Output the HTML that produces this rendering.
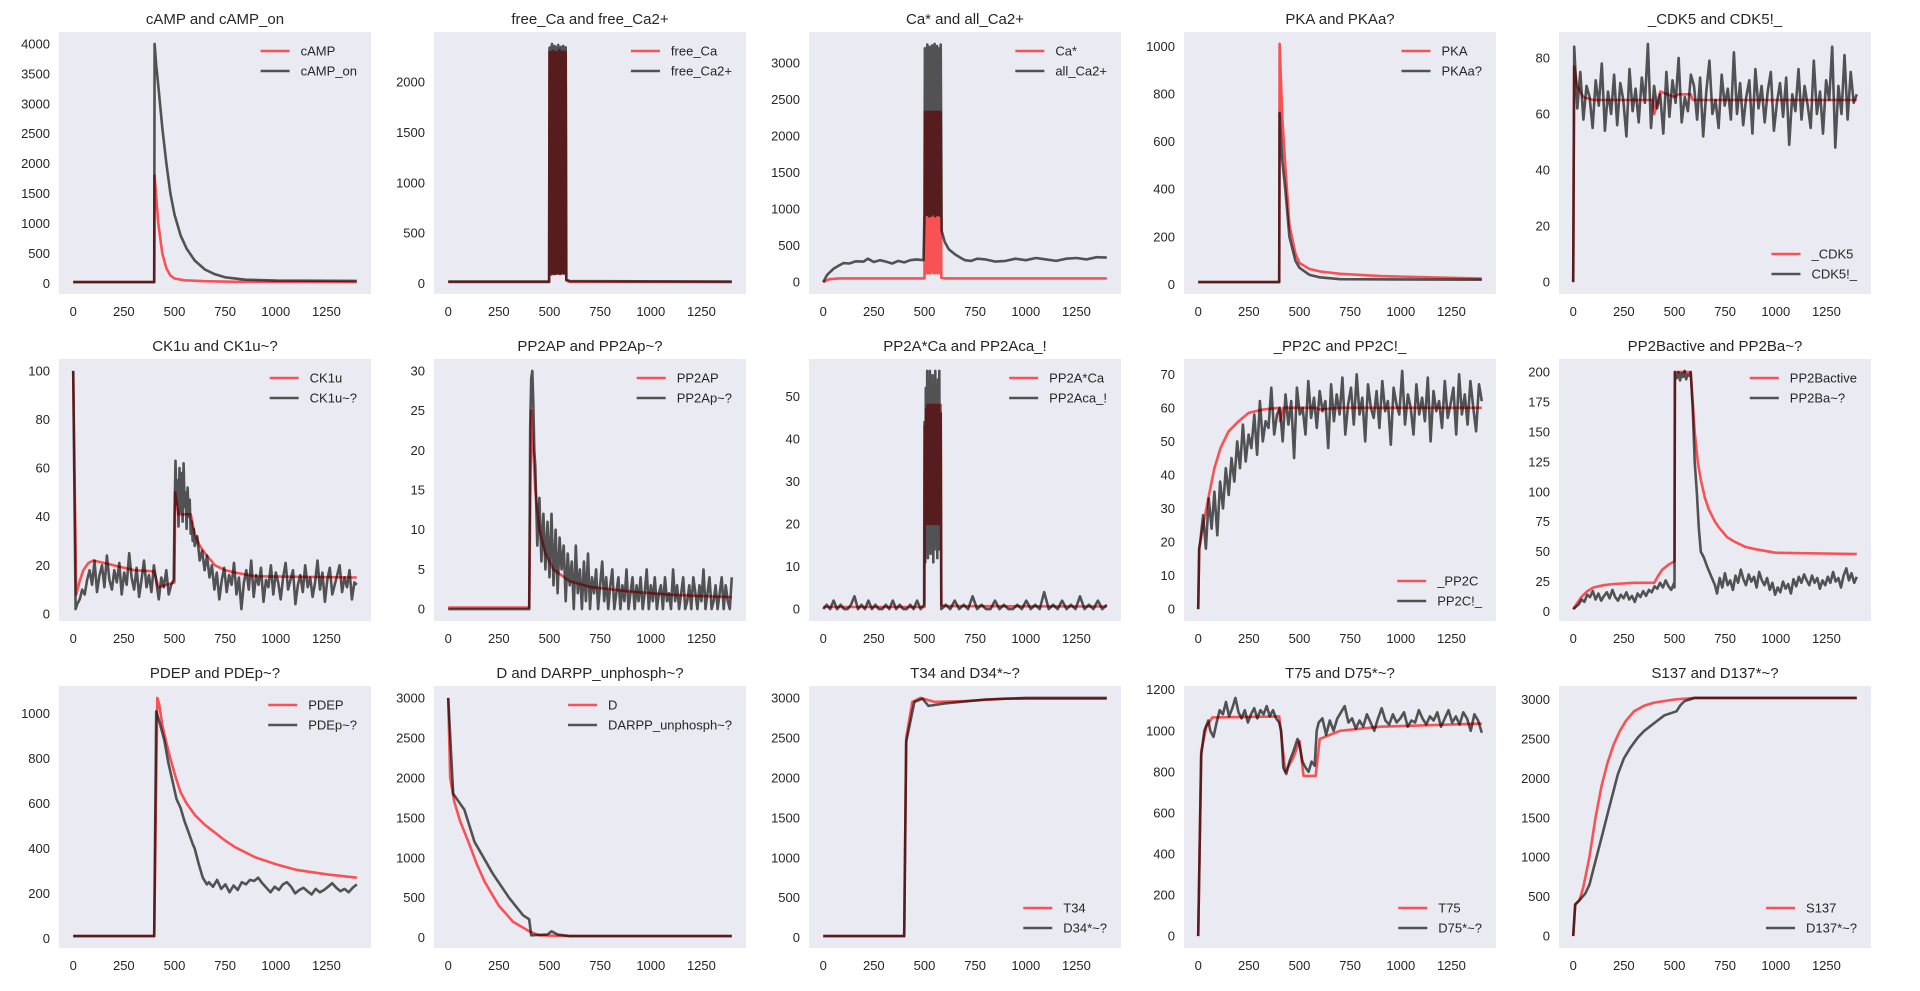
<!DOCTYPE html>
<html><head><meta charset="utf-8"><style>
html,body{margin:0;padding:0;background:#fff;}
svg text{font-family:"Liberation Sans",Arial,sans-serif;fill:#262626;}
</style></head><body>
<svg id="fig" xmlns="http://www.w3.org/2000/svg" width="1920" height="986" viewBox="0 0 1920 986"></svg>
<script>
// ---------- data ----------
const xTicks = [0,250,500,750,1000,1250];
const xDomain = [0,1400];

const camp = [[0,20],[400,20],[402,1800],[420,1000],[440,500],[460,250],[480,130],[500,80],[550,50],[650,35],[800,25],[1400,20]];
const campOn = [[0,20],[400,20],[402,4000],[410,3650],[420,3300],[440,2600],[460,2000],[480,1500],[500,1150],[530,800],[560,580],[600,380],[650,230],[700,150],[750,100],[850,60],[1000,45],[1400,40]];

const freeCaOsc = [2300,100,2300,110,2300,100,2310,95,2300,105,2300,100,2300,110,2300,100,2320,105,2300,100,2300,110,2300,100,2300,105,2300];
const freeCa2Osc = [2340,110,2350,90,2380,100,2330,120,2360,95,2340,105,2350,100,2370,110,2330,95,2350,100,2340,115,2360,100,2335,105,2345];
const caStarOsc = [2330,120,2330,130,2330,120,2330,900,2330,120,2330,130,2330,900,2330,120,2330,125,2330,900,2330,120,2330,130,2330,120,2330];
const allCaOsc = [3200,950,3100,920,3250,960,3180,900,3220,940,3150,910,3240,950,3190,930,3260,900,3170,960,3230,920,3200,940,3150,910,3250];
const allCaPre = [[0,0],[20,100],[50,180],[80,230],[100,260],[130,255],[160,285],[200,280],[220,320],[250,275],[280,300],[310,280],[340,255],[370,290],[400,270],[430,300],[460,310],[495,300],[500,950]];
const allCaPost = [[585,700],[600,550],[620,450],[650,380],[680,330],[700,300],[730,290],[760,320],[800,310],[850,280],[900,290],[950,320],[1000,300],[1050,330],[1100,310],[1150,290],[1200,320],[1250,330],[1300,310],[1350,340],[1400,335]];

const pka = [[0,10],[400,10],[402,1010],[415,700],[430,500],[450,250],[480,130],[500,90],[550,65],[600,55],[700,45],[900,35],[1400,25]];
const pkaa = [[0,10],[400,10],[402,720],[415,520],[430,400],[450,200],[480,100],[500,70],[550,40],[600,30],[700,22],[1400,20]];

const cdk5 = [[0,0],[5,77],[20,70],[50,66],[100,65],[395,65],[400,60],[430,68],[500,66],[520,67],[580,67],[590,65],[1400,65]];
const cdk5Noise = [84,62,75,58,70,66,55,72,63,78,54,68,60,74,56,71,65,52,76,61,69,57,73,64,85,55,70,62,67,53,75,59,72,64,80,57,66,61,74,70,58,73,52,68,79,60,65,55,74,63,69,58,82,60,71,56,66,72,53,76,62,70,57,68,75,54,64,71,59,73,49,67,61,76,58,70,63,55,79,60,68,53,72,65,84,48,70,60,81,58,75,64,67];

const ck1u = [[0,100],[15,8],[30,13],[50,18],[75,21],[100,22],[150,21],[200,20],[300,18],[400,17.5],[420,11],[500,13],[503,50],[520,41],[580,41],[600,33],[625,28],[650,25],[700,20],[750,18],[800,17],[900,15.5],[1400,15]];
const ck1nA = [4,6,10,8,14,18,12,22,9,16,20,11,24,14,10,18,13,21,8,17,12,25,15,10,19,7,14,22,11,16,9,20,13,6,15,11,18,8,12,14];
const ck1nB = [40,63,45,55,36,60,42,58,38,62,44,50,35,52,40,47,33,38,30,35];
const ck1nC = [28,32,22,26,18,24,15,20,10,17,6,14,19,9,16,12,21,8,15,2,13,18,10,22,7,16,12,19,5,14,11,20,8,17,13,6,15,21,10,14,18,4,12,16,9,20,11,15,7,13,22,10,17,5,14,19,8,12,16,20,9,15,11,18,6,13,12];

const pp2ap = [[0,0.2],[400,0.2],[410,25],[430,15],[450,10],[480,7],[520,5],[600,3.5],[700,2.8],[900,2.2],[1100,1.8],[1400,1.5]];
const pp2apPre = [[0,0],[400,0],[405,23],[410,29],[415,30],[420,26],[425,20]];
const pp2apNoise = [18,8,14,6,12,5,11,4,12,3,10,2,9,5,8,1,7,3,6,0,8,2,5,0,6,1,7,0,4,2,5,0,3,6,1,4,0,3,5,0,2,4,0,3,1,5,0,2,4,0,3,1,4,0,2,5,0,3,1,4,0,2,3,0,4,1,2,0,5,1,3,0,2,4,0,1,3,0,4,2,0,3,1,5,0,2,4,0,1,3,0,2,4,0,3,1,0,4];

const pp2aRedOsc = [43,20,47,21,48,20,48,21,48,20,48,21,48,20,48,21,48,20,48,21,48,20,48,21,48];
const pp2aPre = [0,1,0,2,0,1,0,0,1,3,0,1,0,2,0,1,0,0,1,0,2,0,1,0,0,1,0,2,0,1];
const pp2aOsc = [44,11,52,15,56,12,50,18,56,13,48,20,55,11,52,14,56,16,50,12,54,14,56,15,46];
const pp2aPost = [0,1,0,2,0,1,0,3,0,1,0,0,2,0,1,0,0,1,0,2,0,1,0,4,0,1,0,2,0,1,0,3,0,1,0,2,0,1];

const pp2c = [[0,0],[5,18],[25,25],[50,33],[80,42],[110,48],[150,53],[200,56],[250,58.5],[320,59.5],[400,60],[405,56],[420,60],[580,60],[600,59.5],[700,60],[1400,60]];
const pp2cNoise = [20,28,18,33,24,35,22,38,30,42,34,45,38,50,42,55,44,52,48,58,46,62,50,56,54,66,52,58,60,50,64,55,62,45,66,58,60,52,68,57,63,54,65,59,62,48,67,56,64,58,69,52,61,66,55,70,58,63,50,67,60,57,65,54,68,59,62,49,66,61,58,71,55,64,60,52,67,58,63,56,69,50,65,59,62,54,68,57,61,66,52,70,58,64,55,68,60,53,67,62];

const pp2b = [[0,2],[20,7],[40,12],[70,17],[100,20],[150,22],[200,23],[300,24],[400,24],[420,30],[440,35],[470,39],[500,42],[502,200],[580,200],[590,175],[600,150],[615,125],[630,110],[650,95],[670,85],[700,75],[720,70],[760,62],[800,58],[850,54],[900,52],[1000,49],[1400,48]];
const pp2bPre = [2,4,6,10,8,14,12,17,10,15,9,13,16,11,18,12,9,14,11,16,10,13,8,15,12,17,13,18,16,21,19,24,20,26,21,18,24];
const pp2bTop = [198,195,200,193,199,196,201,194,198,197,200];
const pp2bDrop = [[590,170],[600,125],[610,100],[620,70],[630,50],[645,45],[660,38],[680,30],[700,22]];
const pp2bPost = [15,28,20,32,22,26,18,30,24,35,27,22,31,25,29,20,33,26,22,28,18,24,14,20,16,25,19,23,15,27,21,29,24,31,26,22,30,24,28,19,26,22,29,24,33,25,28,20,30,36,26,32,24,29];

const pdep = [[0,10],[400,10],[415,1070],[425,1040],[440,950],[460,870],[480,800],[505,720],[530,650],[560,600],[600,550],[650,505],[700,470],[750,435],[800,405],[900,360],[1000,330],[1100,305],[1250,285],[1400,270]];
const pdepPre = [[0,10],[400,10],[410,1010],[430,950],[450,880],[470,780],[490,700],[510,620],[530,580],[550,520],[570,470],[590,420],[600,400],[620,330],[640,270],[660,240]];
const pdepPost = [250,230,260,220,240,205,235,215,250,240,260,255,270,245,225,205,230,215,240,250,230,200,215,225,210,195,220,205,215,230,245,225,210,220,205,225,240];

const dD = [[0,3000],[10,2000],[30,1700],[60,1450],[100,1200],[140,930],[180,700],[250,400],[320,200],[400,80],[450,30],[600,20],[1400,20]];
const darpp = [[0,3000],[25,1800],[80,1600],[130,1200],[220,800],[300,500],[370,280],[400,230],[410,30],[490,40],[510,80],[540,40],[600,20],[1400,20]];

const t34 = [[0,20],[400,20],[410,2500],[440,2950],[480,3000],[550,2950],[700,2960],[900,2990],[1400,2990]];
const d34 = [[0,20],[400,20],[410,2450],[450,2950],[490,2990],[520,2900],[600,2930],[800,2980],[1000,3000],[1400,3000]];

const t75 = [[0,0],[15,900],[40,1020],[70,1065],[400,1070],[430,800],[470,870],[500,950],[520,780],[580,780],[600,960],[700,1000],[900,1020],[1400,1035]];
const d75Pre = [[0,0],[15,880],[30,1000],[50,1050]];
const d75A = [1000,970,1040,1100,1080,1140,1070,1110,1160,1090,1060,1100,1040,1080,1110,1060,1100,1080,1120,1070,1100,1060,1040];
const d75Mid = [[410,1000],[420,820],[435,790],[450,850],[470,900],[490,960],[500,930],[515,850],[530,820],[545,800],[560,850],[575,830],[585,1000]];
const d75B = [1040,1060,980,1050,1000,1060,1090,1120,1040,1060,1010,1050,1020,1080,1040,1000,1060,1110,1050,1030,1080,1040,1060,1090,1020,1050,1040,1100,1060,1030,1070,1050,1090,1020,1060,1100,1040,1070,1030,1090,1060,1000,1080,1050,990];

const s137 = [[0,0],[10,400],[30,450],[50,620],[80,1000],[110,1500],[140,1900],[170,2200],[200,2430],[230,2600],[260,2730],[300,2850],[350,2920],[400,2960],[500,3000],[600,3020],[1400,3020]];
const d137 = [[0,0],[10,400],[40,480],[60,540],[80,650],[100,850],[120,1050],[145,1300],[170,1550],[195,1800],[220,2050],[250,2250],[280,2380],[320,2520],[350,2600],[400,2700],[450,2800],[510,2850],[530,2930],[550,2980],[600,3020],[1400,3020]];

// ---------- helpers (mapping only) ----------
function stepSeries(t0,t1,vals){const n=vals.length;return vals.map((v,i)=>[t0+(n>1?(t1-t0)*i/(n-1):0),v]);}
function cat(...parts){return [].concat(...parts);}

const plots = [
 {title:"cAMP and cAMP_on",names:["cAMP","cAMP_on"],a:camp,b:campOn,yt:[0,500,1000,1500,2000,2500,3000,3500,4000],leg:"ur"},
 {title:"free_Ca and free_Ca2+",names:["free_Ca","free_Ca2+"],a:cat([[0,15],[498,15]],stepSeries(500,580,freeCaOsc),[[583,30],[600,18],[1400,15]]),b:cat([[0,20],[498,20]],stepSeries(500,580,freeCa2Osc),[[583,40],[600,25],[1400,20]]),yt:[0,500,1000,1500,2000],leg:"ur"},
 {title:"Ca* and all_Ca2+",names:["Ca*","all_Ca2+"],a:cat([[0,0],[30,40],[80,50],[500,50]],stepSeries(502,580,caStarOsc),[[583,60],[600,50],[1400,50]]),b:cat(allCaPre,stepSeries(502,580,allCaOsc),allCaPost),yt:[0,500,1000,1500,2000,2500,3000],leg:"ur"},
 {title:"PKA and PKAa?",names:["PKA","PKAa?"],a:pka,b:pkaa,yt:[0,200,400,600,800,1000],leg:"ur"},
 {title:"_CDK5 and CDK5!_",names:["_CDK5","CDK5!_"],a:cdk5,b:cat([[0,0]],stepSeries(5,1400,cdk5Noise)),yt:[0,20,40,60,80],leg:"lr"},
 {title:"CK1u and CK1u~?",names:["CK1u","CK1u~?"],a:ck1u,b:cat([[0,100],[12,2]],stepSeries(20,496,ck1nA),stepSeries(500,595,ck1nB),stepSeries(600,1400,ck1nC)),yt:[0,20,40,60,80,100],leg:"ur"},
 {title:"PP2AP and PP2Ap~?",names:["PP2AP","PP2Ap~?"],a:pp2ap,b:cat(pp2apPre,stepSeries(430,1400,pp2apNoise)),yt:[0,5,10,15,20,25,30],leg:"ur"},
 {title:"PP2A*Ca and PP2Aca_!",names:["PP2A*Ca","PP2Aca_!"],a:cat([[0,0.5],[500,0.5]],stepSeries(502,580,pp2aRedOsc),[[583,1],[600,0.7],[1400,0.6]]),b:cat(stepSeries(0,498,pp2aPre),stepSeries(500,580,pp2aOsc),stepSeries(583,1400,pp2aPost)),yt:[0,10,20,30,40,50],leg:"ur"},
 {title:"_PP2C and PP2C!_",names:["_PP2C","PP2C!_"],a:pp2c,b:cat([[0,0],[5,18]],stepSeries(10,1400,pp2cNoise)),yt:[0,10,20,30,40,50,60,70],leg:"lr"},
 {title:"PP2Bactive and PP2Ba~?",names:["PP2Bactive","PP2Ba~?"],a:pp2b,b:cat(stepSeries(0,498,pp2bPre),[[500,20],[502,200]],stepSeries(505,580,pp2bTop),pp2bDrop,stepSeries(710,1400,pp2bPost)),yt:[0,25,50,75,100,125,150,175,200],leg:"ur"},
 {title:"PDEP and PDEp~?",names:["PDEP","PDEp~?"],a:pdep,b:cat(pdepPre,stepSeries(670,1400,pdepPost)),yt:[0,200,400,600,800,1000],leg:"ur"},
 {title:"D and DARPP_unphosph~?",names:["D","DARPP_unphosph~?"],a:dD,b:darpp,yt:[0,500,1000,1500,2000,2500,3000],leg:"ur"},
 {title:"T34 and D34*~?",names:["T34","D34*~?"],a:t34,b:d34,yt:[0,500,1000,1500,2000,2500,3000],leg:"lr"},
 {title:"T75 and D75*~?",names:["T75","D75*~?"],a:t75,b:cat(d75Pre,stepSeries(60,400,d75A),d75Mid,stepSeries(595,1400,d75B)),yt:[0,200,400,600,800,1000,1200],leg:"lr"},
 {title:"S137 and D137*~?",names:["S137","D137*~?"],a:s137,b:d137,yt:[0,500,1000,1500,2000,2500,3000],leg:"lr"}
];

// ---------- drawing ----------
const NS="http://www.w3.org/2000/svg";
const svg=document.getElementById('fig');
function el(tag,attrs,parent){const e=document.createElementNS(NS,tag);for(const k in attrs)e.setAttribute(k,attrs[k]);(parent||svg).appendChild(e);return e;}
const RED="rgba(255,0,0,0.65)", BLK="rgba(0,0,0,0.65)";

plots.forEach((p,i)=>{
  const c=i%5, r=Math.floor(i/5);
  const L=59+375*c, T=32+327*r, W=312, H=262;
  const g=el('g',{});
  
  
  const xspan=xDomain[1]-xDomain[0];
  const x0=xDomain[0]-0.05*xspan, x1=xDomain[1]+0.05*xspan;
  let mn=Infinity,mx=-Infinity;
  p.a.concat(p.b).forEach(q=>{if(q[1]<mn)mn=q[1];if(q[1]>mx)mx=q[1];});
  const ys=mx-mn, y0=mn-0.05*ys, y1=mx+0.05*ys;
  const X=v=>L+(v-x0)/(x1-x0)*W, Y=v=>T+H-(v-y0)/(y1-y0)*H;
  const bg=el('rect',{x:L,y:T,width:W,height:H,fill:'#EAEAF2'},g);
  
  
  const t=el('text',{x:L+W/2,y:T-8,'text-anchor':'middle','font-size':'15'},g);
  t.textContent=p.title;
  
  
  xTicks.forEach(v=>{const tx=el('text',{x:X(v),y:T+H+22,'text-anchor':'middle','font-size':'13'},g);tx.textContent=v;
    
    });
  p.yt.forEach(v=>{const ty=el('text',{x:L-9,y:Y(v)+4.5,'text-anchor':'end','font-size':'13'},g);ty.textContent=v;
    
    });
  const clip=el('clipPath',{id:'c'+i},g);el('rect',{x:L,y:T,width:W,height:H},clip);
  [[p.a,RED,0],[p.b,BLK,1]].forEach(([d,col,k])=>{
    const pts=d.map(q=>X(q[0]).toFixed(1)+','+Y(q[1]).toFixed(1)).join(' ');
    const pl=el('polyline',{points:pts,fill:'none',stroke:col,'stroke-width':2.6,'stroke-linejoin':'round','clip-path':'url(#c'+i+')'},g);
    
    
  });
  // legend
  const lg=el('g',{},g);
  
  
  const tmp=el('text',{'font-size':'13'},lg);tmp.textContent=p.names[1].length>p.names[0].length?p.names[1]:p.names[0];
  const tw=tmp.getComputedTextLength();lg.removeChild(tmp);
  const tx=L+W-14-tw, lx1=tx-11, lx0=lx1-29;
  const ly=p.leg==='ur'?[T+19,T+39]:[T+H-40,T+H-20];
  [RED,BLK].forEach((col,k)=>{
    const ln=el('line',{x1:lx0,x2:lx1,y1:ly[k],y2:ly[k],stroke:col,'stroke-width':2.6},lg);
    
    
    const lt=el('text',{x:tx,y:ly[k]+4.5,'font-size':'13'},lg);lt.textContent=p.names[k];
    
    
  });
});
</script>
</body></html>
